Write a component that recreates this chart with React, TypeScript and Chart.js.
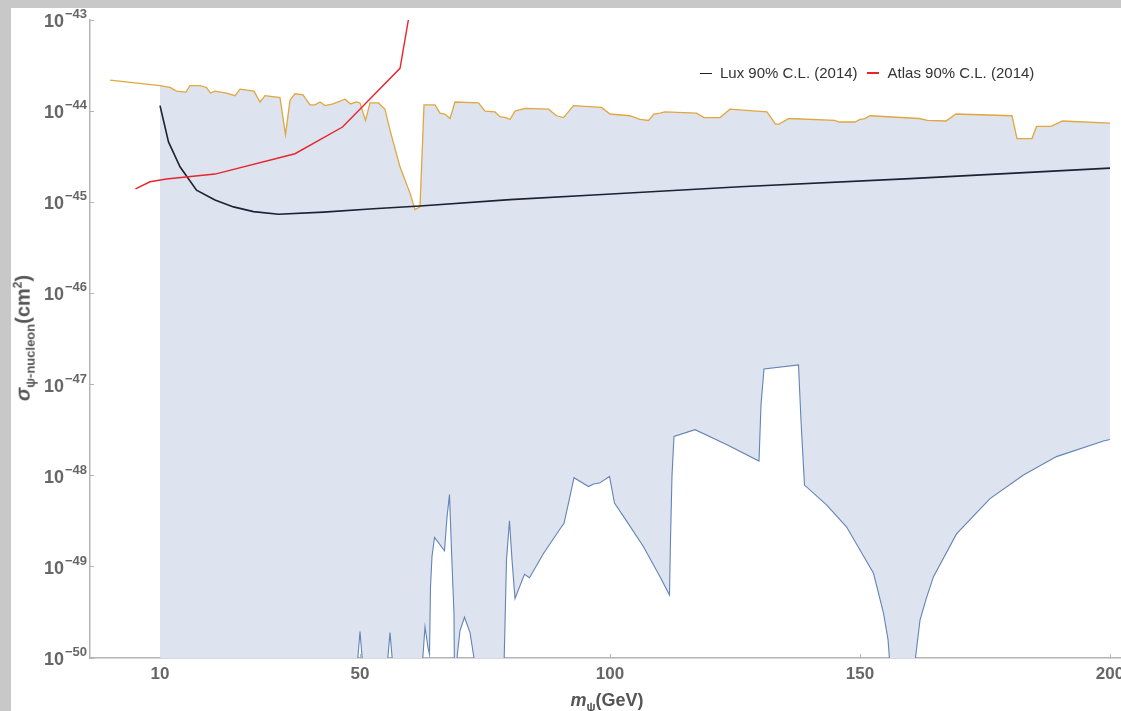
import React, { useEffect, useRef } from "react";
import { Chart, registerables } from "chart.js";

Chart.register(...registerables);

// ---- data (m_psi in GeV, sigma in cm^2) ----
const upperX = [0, 10, 12, 13.3, 15.2, 16, 18, 19.3, 20.1, 21, 23.3, 25, 26, 28.8, 30, 31, 34, 35.1, 36, 37, 38.6, 40, 41, 42, 43, 44.6, 47, 48.1, 49.3, 50, 51.1, 52, 53.7, 55, 56, 58, 60, 61, 62, 62.8, 65, 66, 67, 68, 69, 73.7, 75, 77, 78, 79.2, 80, 81, 83, 87.7, 89.3, 90.7, 92.7, 98.3, 100, 104, 106, 107.7, 108.8, 110, 111, 117.3, 118.8, 122, 124, 131.4, 133.1, 133.8, 135.8, 144.9, 145.9, 149, 150, 151, 152, 161.8, 163.5, 167.2, 169.2, 180.4, 181.4, 184.4, 185.3, 188.2, 190.5, 200];
const upperY = [2.19e-44, 1.91e-44, 1.82e-44, 1.66e-44, 1.62e-44, 1.91e-44, 1.91e-44, 1.82e-44, 1.58e-44, 1.66e-44, 1.58e-44, 1.48e-44, 1.74e-44, 1.66e-44, 1.26e-44, 1.48e-44, 1.41e-44, 5.5e-45, 1.32e-44, 1.55e-44, 1.51e-44, 1.17e-44, 1.17e-44, 1.26e-44, 1.15e-44, 1.2e-44, 1.35e-44, 1.2e-44, 1.26e-44, 1.23e-44, 7.9e-45, 1.23e-44, 1.23e-44, 1.05e-44, 6.2e-45, 2.45e-45, 1.26e-45, 8.3e-46, 8.9e-46, 1.17e-44, 1.17e-44, 9.5e-45, 9.3e-45, 8.3e-45, 1.26e-44, 1.23e-44, 1.0e-44, 9.8e-45, 8.7e-45, 8.5e-45, 8.1e-45, 1.0e-44, 1.07e-44, 1.05e-44, 8.9e-45, 8.5e-45, 1.15e-44, 1.1e-44, 9.3e-45, 8.9e-45, 8.1e-45, 7.9e-45, 9.3e-45, 9.5e-45, 9.8e-45, 9.5e-45, 8.5e-45, 8.5e-45, 1.05e-44, 9.8e-45, 7.2e-45, 7.2e-45, 8.3e-45, 7.9e-45, 7.6e-45, 7.6e-45, 8.1e-45, 8.3e-45, 8.9e-45, 8.3e-45, 7.9e-45, 7.8e-45, 9.3e-45, 8.9e-45, 5.0e-45, 5.0e-45, 6.8e-45, 6.8e-45, 7.8e-45, 7.4e-45];

const lowerX = [10, 49.2, 49.5, 50, 50.5, 50.8, 55.2, 55.5, 56, 56.5, 56.8, 62.2, 62.5, 63, 63.6, 63.9, 64.1, 64.4, 64.9, 66.9, 67.4, 67.9, 68.3, 68.8, 69.0, 69.2, 70, 70.9, 72, 72.8, 73.1, 73.5, 78.5, 78.8, 79.3, 79.9, 80.4, 81, 82.9, 83.9, 86.7, 90, 90.8, 91.7, 92.8, 95.7, 96.7, 97.9, 99.9, 100.9, 103.3, 106.7, 110, 111.9, 112.1, 112.4, 112.8, 117, 123.3, 129.8, 130.2, 130.8, 137.7, 138.2, 138.9, 143.3, 147.3, 150, 152.7, 154.7, 155.6, 156.3, 158.5, 160.6, 162, 163.2, 164.7, 169.3, 176, 182.7, 189.3, 198.7, 200];
const lowerY = [1e-53, 1e-53, 9e-51, 1.95e-50, 9e-51, 1e-53, 1e-53, 9e-51, 1.9e-50, 9e-51, 1e-53, 1e-53, 9e-51, 2.2e-50, 1.3e-50, 1.1e-50, 6e-50, 1.3e-49, 2.1e-49, 1.5e-49, 3.5e-49, 6.2e-49, 1.5e-49, 3e-50, 1e-51, 8e-51, 2.0e-50, 2.8e-50, 1.9e-50, 1e-50, 5e-51, 1e-53, 1e-53, 8e-51, 1.2e-49, 3.2e-49, 1.2e-49, 4.5e-50, 8.3e-50, 7.6e-50, 1.4e-49, 2.6e-49, 3.0e-49, 5.0e-49, 9.5e-49, 7.6e-49, 8.1e-49, 8.3e-49, 9.8e-49, 5.0e-49, 3.2e-49, 1.66e-49, 7.8e-50, 4.9e-50, 2e-49, 1.0e-48, 2.7e-48, 3.2e-48, 2.2e-48, 1.45e-48, 6e-48, 1.48e-47, 1.64e-47, 4e-48, 7.9e-49, 4.8e-49, 2.75e-49, 1.53e-49, 8.5e-50, 3.1e-50, 1.6e-50, 5e-51, 1e-53, 6e-51, 2.6e-50, 4.4e-50, 7.8e-50, 2.3e-49, 5.6e-49, 1.02e-48, 1.62e-48, 2.4e-48, 2.5e-48];

const luxX = [10, 11.7, 14, 17.3, 21, 24.7, 28.7, 33.7, 42.7, 52.7, 62, 80, 96.7, 126, 160, 200];
const luxY = [1.15e-44, 4.6e-45, 2.45e-45, 1.36e-45, 1.06e-45, 8.9e-46, 7.9e-46, 7.4e-46, 7.8e-46, 8.5e-46, 9.1e-46, 1.07e-45, 1.2e-45, 1.48e-45, 1.82e-45, 2.37e-45];

const atlasX = [5.1, 8, 11.3, 21, 37, 46.5, 58, 59.7];
const atlasY = [1.4e-45, 1.68e-45, 1.8e-45, 2.04e-45, 3.41e-45, 6.7e-45, 2.95e-44, 1.02e-43];

const xTicks = [10, 50, 100, 150, 200];
const yTicks = [1e-50, 1e-49, 1e-48, 1e-47, 1e-46, 1e-45, 1e-44, 1e-43];
const regionStart = 10;

const zip = (xs: number[], ys: number[]) => xs.map((x, i) => ({ x, y: ys[i] }));

const AXIS_GRAY = "#b4b4b4";
const LABEL_GRAY = "#666666";
const FONT = "'Liberation Sans', Arial, 'DejaVu Sans', sans-serif";

// draws "10" with a raised exponent for each y tick of the log axis
const powerLabels = {
  id: "powerLabels",
  afterDraw(chart: any) {
    const s = chart.scales.y;
    const ctx = chart.ctx as CanvasRenderingContext2D;
    ctx.save();
    ctx.fillStyle = LABEL_GRAY;
    ctx.textBaseline = "alphabetic";
    for (const t of s.ticks) {
      const v = t.value as number;
      const py = s.getPixelForValue(v);
      const exp = "\u2212" + String(Math.abs(Math.round(Math.log10(v))));
      ctx.font = `bold 18px ${FONT}`;
      ctx.textAlign = "right";
      ctx.fillText("10", 64, py + 7);
      ctx.font = `bold 13px ${FONT}`;
      ctx.textAlign = "left";
      ctx.fillText(exp, 65, py - 2);
    }
    ctx.restore();
  },
};

export default function App() {
  const canvasRef = useRef<HTMLCanvasElement | null>(null);

  useEffect(() => {
    const canvas = canvasRef.current;
    if (!canvas) return;
    const regionPts = zip(upperX, upperY).filter((p) => p.x >= regionStart);

    const chart = new Chart(canvas, {
      type: "line",
      data: {
        datasets: [
          {
            label: "Atlas 90% C.L. (2014)",
            data: zip(atlasX, atlasY),
            borderColor: "#e8252c",
            borderWidth: 1.4,
            pointRadius: 0,
            fill: false,
          },
          {
            label: "Lux 90% C.L. (2014)",
            data: zip(luxX, luxY),
            borderColor: "#1e2130",
            borderWidth: 1.6,
            pointRadius: 0,
            fill: false,
          },
          {
            label: "upper",
            data: zip(upperX, upperY),
            borderColor: "#e2a63e",
            borderWidth: 1.3,
            pointRadius: 0,
            fill: false,
          },
          {
            label: "lower",
            data: zip(lowerX, lowerY),
            borderColor: "#6384b6",
            borderWidth: 1.1,
            pointRadius: 0,
            fill: false,
          },
          {
            label: "region",
            data: regionPts,
            borderColor: "rgba(0,0,0,0)",
            borderWidth: 0,
            pointRadius: 0,
            backgroundColor: "#dde3ef",
            fill: { target: 3 },
          },
        ],
      },
      options: {
        animation: false,
        responsive: false,
        events: [],
        layout: { padding: { top: 20, right: 15, left: 0, bottom: 0 } },
        plugins: { legend: { display: false }, tooltip: { enabled: false } },
        scales: {
          x: {
            type: "linear",
            min: -4,
            max: 203,
            afterBuildTicks: (s: any) => {
              s.ticks = xTicks.map((v) => ({ value: v }));
            },
            afterFit: (s: any) => {
              s.height = 53;
            },
            grid: { drawOnChartArea: false, drawTicks: true, tickLength: -4, color: AXIS_GRAY, lineWidth: 1 },
            border: { color: AXIS_GRAY, width: 1.5 },
            ticks: {
              autoSkip: false,
              maxRotation: 0,
              padding: 10,
              color: LABEL_GRAY,
              font: { family: FONT, size: 17, weight: "bold" },
              callback: (v: any) => String(v),
            },
          },
          y: {
            type: "logarithmic",
            min: 1e-50,
            max: 1e-43,
            afterBuildTicks: (s: any) => {
              s.ticks = yTicks.map((v) => ({ value: v }));
            },
            afterFit: (s: any) => {
              s.width = 90;
            },
            grid: { drawOnChartArea: false, drawTicks: true, tickLength: -4, color: AXIS_GRAY, lineWidth: 1 },
            border: { color: AXIS_GRAY, width: 1.5 },
            ticks: { display: false },
          },
        },
      },
      plugins: [powerLabels],
    } as any);

    return () => chart.destroy();
  }, []);

  return (
    <div
      style={{
        position: "fixed",
        left: 0,
        top: 0,
        width: 1121,
        height: 711,
        overflow: "hidden",
        background: "#c8c8c8",
      }}
    >
      <div style={{ position: "absolute", left: 11, top: 8, right: 0, bottom: 0, background: "#ffffff" }} />
      <canvas
        ref={canvasRef}
        width={1140}
        height={711}
        style={{ position: "absolute", left: 0, top: 0, width: 1140, height: 711 }}
      />
      {/* legend */}
      <div
        style={{
          position: "absolute",
          left: 700,
          top: 63,
          fontFamily: FONT,
          fontSize: 15,
          lineHeight: "20px",
          color: "#333",
          whiteSpace: "nowrap",
          display: "flex",
          alignItems: "center",
        }}
      >
        <span style={{ display: "inline-block", width: 12, borderTop: "1.5px solid #1e2130", marginRight: 8 }} />
        <span>Lux 90% C.L. (2014)</span>
        <span style={{ display: "inline-block", width: 12, borderTop: "2px solid #e8252c", marginLeft: 9, marginRight: 9 }} />
        <span>Atlas 90% C.L. (2014)</span>
      </div>
      {/* x title */}
      <div
        style={{
          position: "absolute",
          left: 607,
          top: 690,
          transform: "translateX(-50%)",
          fontFamily: FONT,
          fontSize: 18,
          lineHeight: "20px",
          fontWeight: "bold",
          color: "#555",
          whiteSpace: "nowrap",
        }}
      >
        <i>m</i>
        <sub style={{ fontSize: 12 }}>ψ</sub>(GeV)
      </div>
      {/* y title */}
      <div
        style={{
          position: "absolute",
          left: 24,
          top: 338,
          transform: "translate(-50%, -50%) rotate(-90deg)",
          fontFamily: FONT,
          fontSize: 20,
          lineHeight: "22px",
          fontWeight: "bold",
          color: "#555",
          whiteSpace: "nowrap",
        }}
      >
        <i>σ</i>
        <sub style={{ fontSize: 13 }}>ψ-nucleon</sub>(cm<sup style={{ fontSize: 12 }}>2</sup>)
      </div>
    </div>
  );
}
